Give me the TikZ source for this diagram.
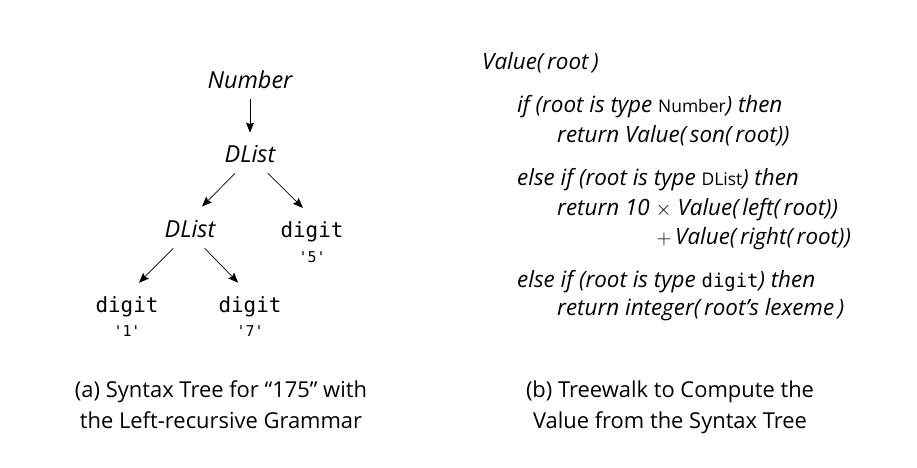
\documentclass[tikz,border=0pt]{standalone}
\usepackage{fontspec}
\setmainfont{Open Sans}
\setmonofont{DejaVu Sans Mono}
\usetikzlibrary{arrows.meta, calc, positioning}
\newcommand{\kindfont}{\fontsize{17.5}{20}\selectfont\upshape}

\begin{document}
\begin{tikzpicture}[x=1bp, y=-1bp,
    nonterm/.style={anchor=base, font=\fontsize{23.5}{26}\selectfont\itshape, inner sep=2bp},
    term/.style={anchor=base, font=\fontsize{21}{24}\selectfont\ttfamily, inner sep=2bp},
    lexeme/.style={anchor=base, font=\fontsize{15}{18}\selectfont\ttfamily, inner sep=1bp},
    edge/.style={-{Stealth[length=10bp, width=8bp, inset=1.5bp]}, line width=0.7bp, shorten <=11bp, shorten >=17bp},
    codeline/.style={anchor=base west, font=\fontsize{22.5}{25}\selectfont\itshape, inner sep=0pt},
    caption/.style={align=center, font=\fontsize{22}{31}\selectfont, inner sep=0pt}]
\useasboundingbox (0,0) rectangle (917,468);

% syntax tree
\node[nonterm] (num)   at (250,89)  {Number};
\node[nonterm] (dtop)  at (250,163) {DList};
\node[nonterm] (dlow)  at (190,238) {DList};
\node[term]    (dig5)  at (312,238) {digit};
\node[lexeme]  (lex5)  at (312,263) {\textquotesingle5\textquotesingle};
\node[term]    (dig1)  at (127,313) {digit};
\node[lexeme]  (lex1)  at (127,337) {\textquotesingle1\textquotesingle};
\node[term]    (dig7)  at (250,313) {digit};
\node[lexeme]  (lex7)  at (250,337) {\textquotesingle7\textquotesingle};

\draw[edge, shorten <=8bp, shorten >=11bp] (num) -- (dtop);
\draw[edge] ([xshift=-7bp]dtop.south) -- (dlow.north);
\draw[edge] ([xshift=10bp]dtop.south) -- ([xshift=3bp]dig5.north);
\draw[edge] ([xshift=-9bp]dlow.south) -- (dig1.north);
\draw[edge] ([xshift=7bp]dlow.south) -- (dig7.north);

% treewalk
\node[codeline] (l1) at (482,70)  {Value(\,root\,)};
\node[codeline] (l2) at (517,113) {if (root is type {\kindfont Number}) then};
\node[codeline] (l3) at (557,143) {return Value(\,son(\,root))};
\node[codeline] (l4) at (517,186) {else if (root is type {\kindfont DList}) then};
\node[codeline] (l5) at (557,216) {return 10 $\times$ Value(\,left(\,root))};
\node[codeline] (l6) at ($(l5.base west)+(0,29)$) {\phantom{return 10 }\hspace{1bp}$+$\,Value(\,right(\,root))};
\node[codeline] (l7) at (517,288) {else if (root is type {\upshape\ttfamily\fontsize{19}{21}\selectfont digit}) then};
\node[codeline] (l8) at (557,316) {return integer(\,root’s lexeme\,)};

% captions
\node[caption, anchor=base] (capa) at (221,428) {(a) Syntax Tree for “175” with\\the Left-recursive Grammar};
\node[caption, anchor=base] (capb) at (670,428) {(b) Treewalk to Compute the\\Value from the Syntax Tree};
\end{tikzpicture}
\end{document}
